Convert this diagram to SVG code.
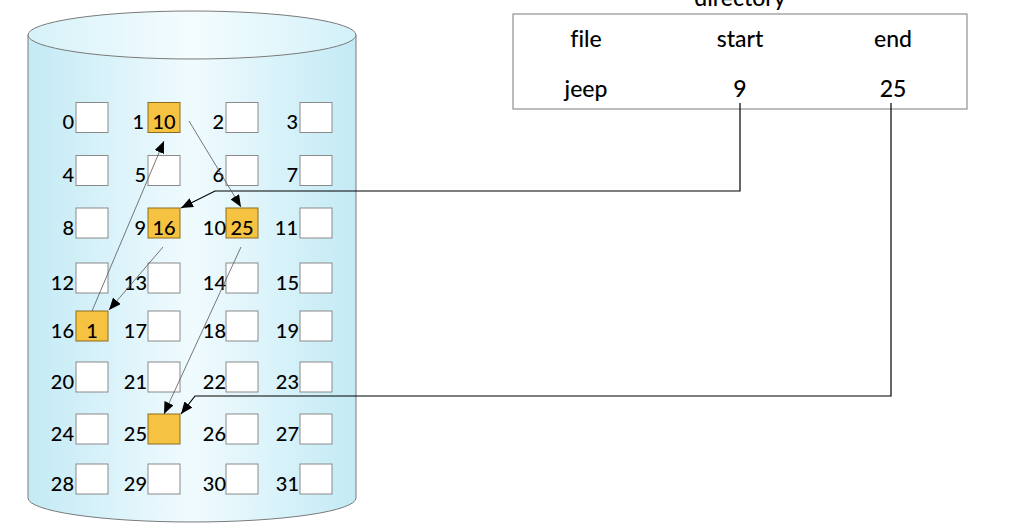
<svg xmlns="http://www.w3.org/2000/svg" width="1010" height="530" viewBox="0 0 1010 530">
<defs>
<linearGradient id="body" x1="0" y1="0" x2="1" y2="0">
<stop offset="0" stop-color="#c3eaf5"/>
<stop offset="0.5" stop-color="#f0fbfe"/>
<stop offset="1" stop-color="#c3eaf5"/>
</linearGradient>
<linearGradient id="top" x1="0" y1="0" x2="1" y2="0">
<stop offset="0" stop-color="#d6f2f9"/>
<stop offset="0.5" stop-color="#f4fcfe"/>
<stop offset="1" stop-color="#d2f1f9"/>
</linearGradient>
<marker id="ah" viewBox="0 0 12 10" refX="12" refY="5" markerWidth="12" markerHeight="10" markerUnits="userSpaceOnUse" orient="auto">
<path d="M0,0 L12,5 L0,10 z" fill="#000"/>
</marker>
</defs>
<style>
text{font-family:Lato,"Liberation Sans",sans-serif;fill:#000;font-variant-ligatures:none;font-weight:500}
.b{fill:#fff;stroke:#8a8a8a;stroke-width:1}
.o{fill:#f6c242;stroke:#8c6d1f;stroke-width:1}
.l{font-size:20px;text-anchor:end}
.v{font-size:20px;text-anchor:middle}
.d{font-size:23px;text-anchor:middle}
.c{fill:none;stroke:#555;stroke-width:0.8}
.k{fill:none;stroke:#000;stroke-width:1.2}
</style>
<g id="disk">
<path d="M28,35 L28,498 A164,24 0 0 0 356,498 L356,35 Z" fill="url(#body)" stroke="#7a7a7a" stroke-width="1"/>
<ellipse cx="192" cy="35" rx="164" ry="24" fill="url(#top)" stroke="#7a7a7a" stroke-width="1"/>
</g>
<g id="directory">
<text class="d" x="740" y="6">directory</text>
<rect x="513" y="14" width="454" height="95" fill="#fff" stroke="#7a7a7a" stroke-width="1"/>
<text class="d" x="586" y="47">file</text>
<text class="d" x="740" y="47">start</text>
<text class="d" x="893" y="47">end</text>
<text class="d" x="586" y="97">jeep</text>
<text class="d" x="740" y="97">9</text>
<text class="d" x="893" y="97">25</text>
</g>
<g id="blocks">
<g id="b0"><rect class="b" x="76" y="102.5" width="32" height="30"/><text class="l" x="74" y="129">0</text></g>
<g id="b1"><rect class="o" x="148" y="102.5" width="32" height="30"/><text class="l" x="144" y="129">1</text><text class="v" x="164" y="129">10</text></g>
<g id="b2"><rect class="b" x="226" y="102.5" width="32" height="30"/><text class="l" x="224" y="129">2</text></g>
<g id="b3"><rect class="b" x="300" y="102.5" width="32" height="30"/><text class="l" x="298" y="129">3</text></g>
<g id="b4"><rect class="b" x="76" y="155.5" width="32" height="30"/><text class="l" x="74" y="182">4</text></g>
<g id="b5"><rect class="b" x="148" y="155.5" width="32" height="30"/><text class="l" x="146" y="182">5</text></g>
<g id="b6"><rect class="b" x="226" y="155.5" width="32" height="30"/><text class="l" x="224" y="182">6</text></g>
<g id="b7"><rect class="b" x="300" y="155.5" width="32" height="30"/><text class="l" x="298" y="182">7</text></g>
<g id="b8"><rect class="b" x="76" y="208" width="32" height="30"/><text class="l" x="74" y="234.5">8</text></g>
<g id="b9"><rect class="o" x="148" y="208" width="32" height="30"/><text class="l" x="146" y="234.5">9</text><text class="v" x="164" y="234.5">16</text></g>
<g id="b10"><rect class="o" x="226" y="208" width="32" height="30"/><text class="l" x="226" y="234.5">10</text><text class="v" x="242" y="234.5">25</text></g>
<g id="b11"><rect class="b" x="300" y="208" width="32" height="30"/><text class="l" x="298" y="234.5">11</text></g>
<g id="b12"><rect class="b" x="76" y="263" width="32" height="30"/><text class="l" x="74" y="289.5">12</text></g>
<g id="b13"><rect class="b" x="148" y="263" width="32" height="30"/><text class="l" x="147" y="289.5">13</text></g>
<g id="b14"><rect class="b" x="226" y="263" width="32" height="30"/><text class="l" x="226" y="289.5">14</text></g>
<g id="b15"><rect class="b" x="300" y="263" width="32" height="30"/><text class="l" x="299" y="289.5">15</text></g>
<g id="b16"><rect class="o" x="76" y="311" width="32" height="30"/><text class="l" x="74" y="337.5">16</text><text class="v" x="92" y="337.5">1</text></g>
<g id="b17"><rect class="b" x="148" y="311" width="32" height="30"/><text class="l" x="147" y="337.5">17</text></g>
<g id="b18"><rect class="b" x="226" y="311" width="32" height="30"/><text class="l" x="226" y="337.5">18</text></g>
<g id="b19"><rect class="b" x="300" y="311" width="32" height="30"/><text class="l" x="299" y="337.5">19</text></g>
<g id="b20"><rect class="b" x="76" y="362" width="32" height="30"/><text class="l" x="74" y="388.5">20</text></g>
<g id="b21"><rect class="b" x="148" y="362" width="32" height="30"/><text class="l" x="147" y="388.5">21</text></g>
<g id="b22"><rect class="b" x="226" y="362" width="32" height="30"/><text class="l" x="226" y="388.5">22</text></g>
<g id="b23"><rect class="b" x="300" y="362" width="32" height="30"/><text class="l" x="299" y="388.5">23</text></g>
<g id="b24"><rect class="b" x="76" y="414" width="32" height="30"/><text class="l" x="74" y="440.5">24</text></g>
<g id="b25"><rect class="o" x="148" y="414" width="32" height="30"/><text class="l" x="147" y="440.5">25</text></g>
<g id="b26"><rect class="b" x="226" y="414" width="32" height="30"/><text class="l" x="226" y="440.5">26</text></g>
<g id="b27"><rect class="b" x="300" y="414" width="32" height="30"/><text class="l" x="299" y="440.5">27</text></g>
<g id="b28"><rect class="b" x="76" y="464" width="32" height="30"/><text class="l" x="74" y="490.5">28</text></g>
<g id="b29"><rect class="b" x="148" y="464" width="32" height="30"/><text class="l" x="147" y="490.5">29</text></g>
<g id="b30"><rect class="b" x="226" y="464" width="32" height="30"/><text class="l" x="226" y="490.5">30</text></g>
<g id="b31"><rect class="b" x="300" y="464" width="32" height="30"/><text class="l" x="299" y="490.5">31</text></g>
</g>
<g id="connectors">
<path class="k" d="M740,103 L740,191 L215,191 L181,208" marker-end="url(#ah)"/>
<path class="k" d="M891,103 L891,396 L195,396 L181,414" marker-end="url(#ah)"/>
<path class="c" d="M189,121 L241,207" marker-end="url(#ah)"/>
<path class="c" d="M163,247 L109,310" marker-end="url(#ah)"/>
<path class="c" d="M92,311 L164,141" marker-end="url(#ah)"/>
<path class="c" d="M241,247 L164,414" marker-end="url(#ah)"/>
</g>
</svg>
